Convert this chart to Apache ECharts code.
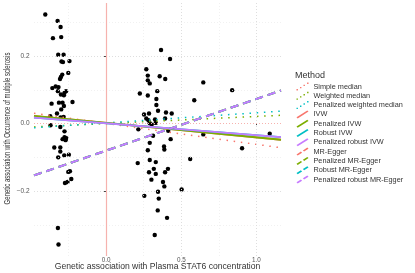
<!DOCTYPE html>
<html><head><meta charset="utf-8">
<script src="https://cdn.jsdelivr.net/npm/echarts@6/dist/echarts.min.js"></script>
<style>html,body{margin:0;padding:0;background:#fff}#c{width:415px;height:273px}</style>
</head><body><div id="c"></div>
<script>
// SNP associations (exposure beta, outcome beta)
const snpX = [-0.405,-0.323,-0.303,-0.354,-0.299,-0.319,-0.283,-0.297,-0.287,-0.244,-0.252,-0.292,-0.301,-0.307,-0.358,-0.336,-0.317,-0.321,-0.267,-0.277,-0.281,-0.301,-0.363,-0.314,-0.290,-0.224,-0.281,-0.299,-0.327,-0.283,-0.372,-0.303,-0.370,-0.305,-0.277,-0.277,-0.265,-0.290,-0.270,-0.345,-0.305,-0.305,-0.279,-0.248,-0.319,-0.252,-0.241,-0.232,-0.257,-0.274,-0.321,-0.317,
  0.365,0.425,0.267,0.277,0.356,0.393,0.277,0.290,0.224,0.340,0.277,0.334,0.334,0.345,0.398,0.436,0.252,0.285,0.267,0.281,0.325,0.392,0.290,0.303,0.330,0.586,0.214,0.413,0.312,0.429,0.290,0.385,0.387,0.277,0.559,0.290,0.330,0.210,0.317,0.411,0.285,0.330,0.392,0.301,0.378,0.387,0.502,0.254,0.345,0.350,0.343,0.405,0.323,0.646,0.838,0.646,1.088,0.904];
const snpY = [0.323,0.304,0.286,0.253,0.256,0.204,0.204,0.184,0.182,0.185,0.150,0.145,0.138,0.132,0.105,0.110,0.108,0.096,0.096,0.091,0.084,0.086,0.059,0.062,0.062,0.064,0.052,0.042,0.030,0.020,0.022,0.018,-0.005,-0.010,-0.023,-0.040,-0.043,-0.046,-0.049,-0.071,-0.071,-0.083,-0.094,-0.092,-0.100,-0.143,-0.141,-0.164,-0.173,-0.176,-0.309,-0.358,
  0.218,0.191,0.161,0.142,0.140,0.132,0.128,0.119,0.089,0.096,0.083,0.073,0.055,0.038,0.033,0.030,0.027,0.030,0.015,0.010,0.012,0.015,0.001,-0.003,0.002,0.069,-0.017,-0.021,-0.036,-0.046,-0.057,-0.068,-0.077,-0.079,-0.105,-0.108,-0.114,-0.117,-0.134,-0.134,-0.144,-0.149,-0.144,-0.166,-0.173,-0.186,-0.195,-0.214,-0.202,-0.222,-0.257,-0.279,-0.330,0.122,0.099,-0.032,-0.030,-0.073];

const methods = ['Simple median','Weighted median','Penalized weighted median','IVW','Penalized IVW','Robust IVW','Penalized robust IVW','MR-Egger','Penalized MR-Egger','Robust MR-Egger','Penalized robust MR-Egger'];
const intercepts = [0.0005,0.0002,0.002,0.0022,0.0022,0.0008,0.0008,-0.080,-0.080,-0.080,-0.080];
const slopes = [-0.062,0.021,0.030,-0.043,-0.043,-0.0353,-0.0353,0.153,0.153,0.153,0.153];
const methodColors = ['#F8766D','#7CAE00','#00BFC4','#F8766D','#7CAE00','#00BFC4','#C77CFF','#F8766D','#7CAE00','#00BFC4','#C77CFF'];
const methodKinds = ['dotted','dotted','dotted','solid','solid','solid','solid','dashed','dashed','dashed','dashed'];

const xMajor = [0, 0.5, 1.0], xMinor = [-0.25, 0.25, 0.75];
const yMajor = [-0.2, 0, 0.2], yMinor = [-0.3, -0.1, 0.1, 0.3];
const xLim = [-0.48, 1.163], yLim = [-0.392, 0.357];

const icons = {
  dotted: 'path://M0,6.6h1.4v1.4h-1.4z M3.5,4.4h1.4v1.4h-1.4z M7,2.2h1.4v1.4h-1.4z M10.6,0h1.4v1.4h-1.4z',
  solid: 'path://M0,6.8L10.8,0L12,1.2L1.2,8Z',
  dashed: 'path://M0,6.8L4.4,4L5.6,5.2L1.2,8Z M6.4,2.8L10.8,0L12,1.2L7.6,4Z'
};
const lineTypes = { dotted: [1.5, 5.7], solid: 'solid', dashed: [8, 5] };
const lineWidths = { dotted: 1.5, solid: 1.8, dashed: 2 };

const fmt = v => (v < 0 ? '\u2212' : '') + Math.abs(v).toFixed(1);

const gridLine = (vals, axis, color, type, width) => vals.map(v => ({ [axis]: v, lineStyle: { color, type, width } }));

const series = [];
series.push({
  type: 'line', data: [], silent: true, z: 1,
  markLine: {
    silent: true, symbol: 'none', animation: false, label: { show: false },
    data: [].concat(
      gridLine(xMinor, 'xAxis', '#eeeeee', [1, 2], 0.8),
      gridLine(yMinor, 'yAxis', '#eeeeee', [1, 2], 0.8),
      gridLine(xMajor, 'xAxis', '#dedede', [1, 2], 1),
      gridLine(yMajor, 'yAxis', '#dedede', [1, 2], 1),
      [{ xAxis: 0, lineStyle: { color: '#F6B2AE', type: 'solid', width: 1.2 } },
       { yAxis: 0, lineStyle: { color: '#F6B2AE', type: [1, 2], width: 1 } }]
    )
  }
});
series.push({
  type: 'scatter', z: 3, symbol: 'circle', symbolSize: 4.4, silent: true,
  emphasis: { disabled: true },
  itemStyle: { color: '#000', opacity: 1, borderWidth: 0 },
  data: snpX.map((x, i) => [x, snpY[i]])
});
methods.forEach((m, i) => {
  const k = methodKinds[i];
  series.push({
    name: m, type: 'line', z: 4 + i, showSymbol: false, symbol: 'none', silent: true,
    emphasis: { disabled: true },
    lineStyle: { color: methodColors[i], width: lineWidths[k], type: lineTypes[k], cap: 'butt' },
    itemStyle: { color: methodColors[i] },
    data: xLim.map(x => [x, intercepts[i] + slopes[i] * x])
  });
});

const chart = echarts.init(document.getElementById('c'), null, { renderer: 'canvas' });
chart.setOption({
  animation: false,
  backgroundColor: '#fff',
  textStyle: { fontFamily: 'Liberation Sans, Arial, sans-serif' },
  grid: { left: 34, right: 134, top: 3, bottom: 17, containLabel: false, outerBoundsMode: 'none' },
  title: { text: 'Method', left: 295, top: 71, padding: 0,
    textStyle: { fontSize: 9, fontWeight: 'normal', color: '#333', fontFamily: 'Liberation Sans, Arial, sans-serif' } },
  legend: {
    orient: 'vertical', left: 296.5, top: 82.5, padding: 0,
    itemWidth: 12, itemHeight: 8, itemGap: 1.3, selectedMode: false,
    textStyle: { fontSize: 7.3, color: '#333', lineHeight: 8 },
    data: methods.map((m, i) => ({ name: m, icon: icons[methodKinds[i]] }))
  },
  xAxis: {
    type: 'value', min: xLim[0], max: xLim[1],
    name: 'Genetic association with Plasma STAT6 concentration',
    nameLocation: 'middle', nameGap: 6, nameMoveOverlap: false,
    nameTextStyle: { fontSize: 8.6, color: '#333', verticalAlign: 'top' },
    axisLine: { show: false }, splitLine: { show: false },
    axisTick: { show: true, customValues: xMajor, length: 1.5, lineStyle: { color: '#444' } },
    axisLabel: { customValues: xMajor, formatter: fmt, fontSize: 6.3, color: '#555', margin: 1.5 }
  },
  yAxis: {
    type: 'value', min: yLim[0], max: yLim[1],
    axisLine: { show: false }, splitLine: { show: false },
    axisTick: { show: true, customValues: yMajor, length: 3, lineStyle: { color: '#444' } },
    axisLabel: { customValues: yMajor, formatter: fmt, fontSize: 6.5, color: '#555', margin: 4.5 }
  },
  graphic: [{
    type: 'text', x: 7.5, y: 128.5, rotation: Math.PI / 2, scaleX: 0.7, scaleY: 1,
    style: { text: 'Genetic association with Occurrence of multiple sclerosis', fontSize: 8.6,
      fill: '#333', align: 'center', verticalAlign: 'middle', fontFamily: 'Liberation Sans, Arial, sans-serif' }
  }],
  series
});
</script></body></html>
